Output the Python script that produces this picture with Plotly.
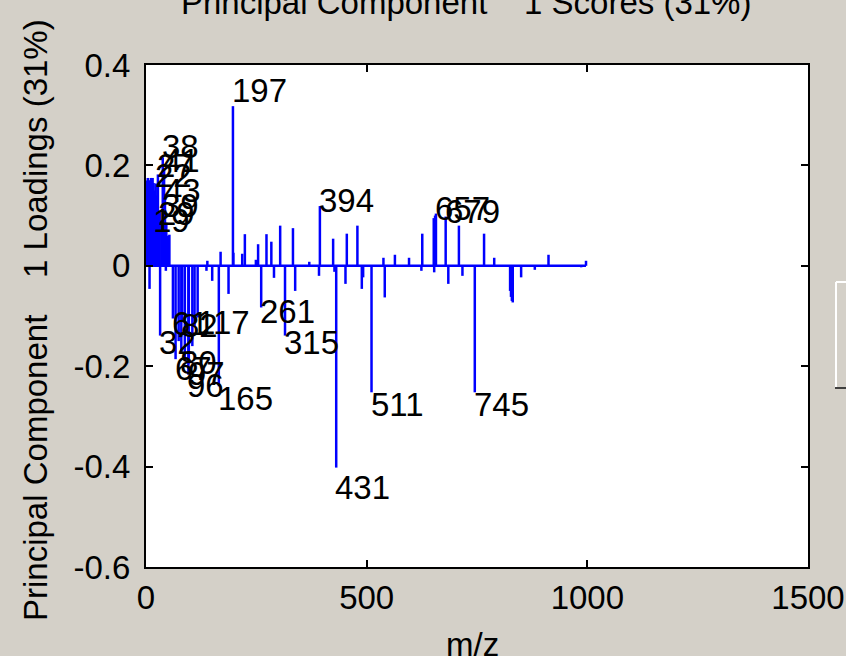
import plotly.graph_objects as go

# ---------------- data ----------------
mz = [1, 2, 3, 4, 5, 6, 7, 8, 9, 10, 11, 12, 13, 14, 15, 16, 17, 18, 19, 20,
      21, 22, 23, 24, 25, 26, 27, 28, 29, 31, 32, 35, 38, 39, 41, 43, 45, 46,
      50, 53, 61, 67, 74, 80, 82, 88, 96, 97, 105, 110, 117, 137, 139, 150,
      165, 169, 187, 197, 198, 218, 224, 249, 254, 261, 273, 284, 290, 304,
      315, 333, 338, 370, 392, 394, 424, 427, 431, 452, 455, 479, 489, 492,
      511, 538, 541, 564, 596, 624, 626, 652, 653, 655, 657, 679, 685, 709,
      717, 745, 766, 789, 825, 827, 829, 831, 850, 881, 912, 986, 997]
loading = [0.16, 0.17, 0.165, 0.175, 0.16, 0.17, 0.15, -0.046, 0.17, 0.165,
           0.175, 0.16, 0.17, 0.155, 0.175, 0.16, 0.165, 0.14, 0.082, 0.15,
           0.12, 0.164, 0.13, 0.11, 0.14, 0.10, 0.182, 0.06, 0.095, 0.11,
           -0.139, 0.09, 0.216, 0.109, 0.191, 0.136, -0.01, 0.086,
           0.06, 0.062, -0.105, -0.186, -0.15, -0.175, -0.108, -0.19, -0.217,
           -0.195, -0.16, -0.12, -0.103, -0.01, 0.01, -0.03,
           -0.24, 0.028, -0.056, 0.318, 0.026, 0.024, 0.063, 0.012, 0.043,
           -0.083, 0.063, 0.048, -0.024, 0.08,
           -0.139, 0.075, -0.05, 0.008, -0.02, 0.119, 0.054, -0.012, -0.402,
           -0.036, 0.064, 0.08, -0.046, -0.023,
           -0.252, 0.016, -0.063, 0.022, 0.016, -0.01, 0.064, 0.095, -0.013,
           0.10, 0.104, 0.098, -0.036, 0.08,
           -0.02, -0.252, 0.064, 0.016, -0.05, -0.062, -0.07, -0.073, -0.023,
           -0.008, 0.022, -0.003, 0.01]

label_mz = [19, 22, 27, 29, 38, 39, 41, 43, 32, 61, 67, 80, 82, 96, 97, 117,
            165, 197, 261, 315, 394, 431, 511, 657, 679, 745]

x_ticks = [0, 500, 1000, 1500]
y_ticks = [0.4, 0.2, 0, -0.2, -0.4, -0.6]
y_tick_text = ["0.4", "0.2", "0", "-0.2", "-0.4", "-0.6"]

title_text = "Principal Component\u00a0\u00a0\u00a0\u00a01 Scores (31%)"
ylabel_text = "Principal Component\u00a0\u00a0\u00a0\u00a01 Loadings (31%)"
xlabel_text = "m/z"

# ---------------- figure ----------------
FONT = "Liberation Sans, Arial, sans-serif"
FS = 33
BG = "#D4D0C8"

sx, sy = [], []
for m, v in zip(mz, loading):
    sx += [m, m, None]
    sy += [0, v, None]

fig = go.Figure()
fig.add_trace(go.Scatter(x=sx, y=sy, mode="lines",
                         line=dict(color="#0000FF", width=2.5),
                         hoverinfo="skip", showlegend=False, connectgaps=False))
fig.add_trace(go.Scatter(x=[min(mz), max(mz)], y=[0, 0], mode="lines",
                         line=dict(color="#0000FF", width=2.5),
                         hoverinfo="skip", showlegend=False))

val_of = dict(zip(mz, loading))
for m in label_mz:
    fig.add_annotation(x=m, y=1.1 * val_of[m], text=str(m), showarrow=False,
                       xanchor="left", yanchor="middle", xshift=-3,
                       font=dict(family=FONT, size=FS, color="black"))

L, R, T, B = 146, 38, 65, 89
W, H = 846, 656
pw, ph = W - L - R, H - T - B

def px(xp):
    return (xp - L) / pw

def py(yp):
    return (H - B - yp) / ph

fig.add_annotation(xref="paper", yref="paper", x=px(466), y=py(2.5),
                   text=title_text, showarrow=False, xanchor="center",
                   yanchor="middle", font=dict(family=FONT, size=FS, color="black"))
fig.add_annotation(xref="paper", yref="paper", x=px(35), y=py(320),
                   text=ylabel_text, textangle=-90, showarrow=False,
                   xanchor="center", yanchor="middle",
                   font=dict(family=FONT, size=FS, color="black"))
fig.add_annotation(xref="paper", yref="paper", x=px(472), y=py(644),
                   text=xlabel_text, showarrow=False, xanchor="center",
                   yanchor="middle", font=dict(family=FONT, size=FS, color="black"))

# window widget at the right edge (decoration)
fig.add_shape(type="line", xref="paper", yref="paper", x0=px(836), x1=px(836),
              y0=py(282), y1=py(388), line=dict(color="white", width=2))
fig.add_shape(type="line", xref="paper", yref="paper", x0=px(836), x1=px(850),
              y0=py(282), y1=py(282), line=dict(color="white", width=2))
fig.add_shape(type="line", xref="paper", yref="paper", x0=px(835), x1=px(850),
              y0=py(388), y1=py(388), line=dict(color="#404040", width=2))

axis_common = dict(showgrid=False, zeroline=False, showline=True,
                   linecolor="black", linewidth=2, mirror="ticks",
                   ticks="inside", ticklen=7, tickwidth=2, tickcolor="black",
                   automargin=False,
                   tickfont=dict(family=FONT, size=FS, color="black"))
fig.update_xaxes(range=[0, 1500], tickvals=x_ticks,
                 ticktext=[str(t) for t in x_ticks], ticklabelstandoff=0,
                 **axis_common)
fig.update_yaxes(range=[-0.6, 0.4], tickvals=y_ticks, ticktext=y_tick_text,
                 ticklabelstandoff=7, **axis_common)

fig.update_layout(width=W, height=H, margin=dict(l=L, r=R, t=T, b=B),
                  paper_bgcolor=BG, plot_bgcolor="white", showlegend=False)

fig.write_html("out.html")
